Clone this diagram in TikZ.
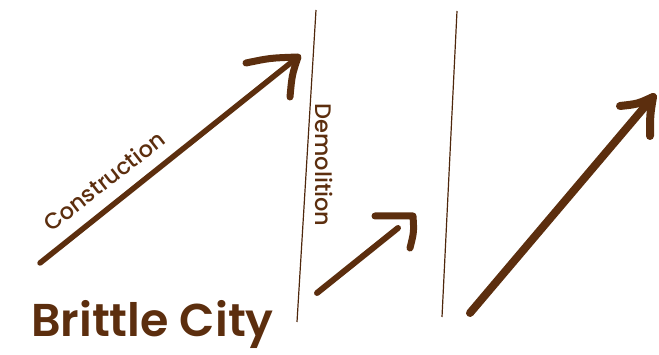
\documentclass[tikz,border=0pt]{standalone}
\usepackage{fontspec}
\setmainfont{Poppins}[BoldFont={Poppins SemiBold}]
\newfontfamily\labelfont{Poppins Medium}
\definecolor{cityBrown}{RGB}{92,46,14}

\begin{document}
\begin{tikzpicture}[
    x=1pt, y=-1pt,
    shaft/.style={cityBrown, line width=5.5pt, line cap=round, line join=round},
    barb/.style={cityBrown, line width=7pt, line cap=round, line join=round},
    divider/.style={cityBrown!85!black, line width=1.2pt},
    lbl/.style={text=cityBrown, font=\labelfont\fontsize{22.5}{22.5}\selectfont, inner sep=0pt},
    title/.style={text=cityBrown, font=\fontsize{46}{46}\selectfont\bfseries, inner sep=0pt},
]
\useasboundingbox (0,0) rectangle (659,355);

% ---- dividers ----
\coordinate (d1-top) at (316,10);
\coordinate (d1-bot) at (297,322);
\coordinate (d2-top) at (457,11);
\coordinate (d2-bot) at (442,317);
\draw[divider] (d1-top) -- (d1-bot);
\draw[divider] (d2-top) -- (d2-bot);

% ---- construction arrow ----
\coordinate (con-start) at (40,263);
\coordinate (con-tip)   at (298,57);
\coordinate (con-left)  at (246,63);
\coordinate (con-right) at (290,97);
\draw[shaft] (con-start) -- (con-tip);
\draw[barb] (con-left) .. controls (270,58) .. (con-tip) .. controls (292,75) .. (con-right);

% ---- small arrow ----
\coordinate (mid-start) at (317,293);
\coordinate (mid-tip)   at (398,228);
\coordinate (mid-left)  at (375,216);
\coordinate (mid-corner) at (413,216);
\coordinate (mid-right) at (410,248);
\draw[shaft, line width=6pt] (mid-start) -- (mid-tip);
\draw[barb] (mid-left) -- (mid-corner) .. controls (414,232) .. (mid-right);

% ---- big arrow ----
\coordinate (big-start) at (470,313);
\coordinate (big-tip)   at (653,97);
\coordinate (big-left)  at (620,106);
\coordinate (big-right) at (650,136);
\draw[shaft, line width=8pt] (big-start) -- (big-tip);
\draw[barb, line width=8pt] (big-left) .. controls (638,104) .. (big-tip) .. controls (650,115) .. (big-right);

% ---- labels ----
\node[lbl, rotate=38] (construction) at (104,181) {Construction};
\node[lbl, rotate=-90] (demolition) at (324,165) {Demolition};
\node[title, anchor=base west] (city) at (31,337) {Brittle City};

\end{tikzpicture}
\end{document}
